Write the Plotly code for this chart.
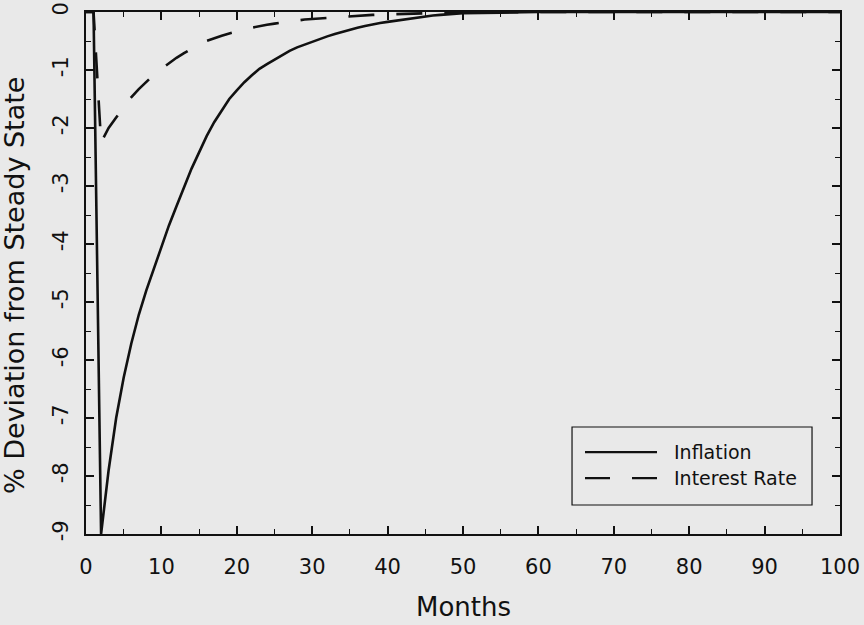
import plotly.graph_objects as go

# ---- data ----
months = list(range(0, 51)) + [55, 60, 70, 80, 90, 100]

inflation = [0.0, 0.0, -9.0, -7.9, -7.0, -6.3, -5.72, -5.22, -4.8, -4.42,
             -4.05, -3.68, -3.35, -3.03, -2.70, -2.42, -2.14, -1.9, -1.69, -1.5,
             -1.35, -1.21, -1.09, -0.98, -0.9, -0.82, -0.74, -0.67, -0.61, -0.56,
             -0.51, -0.47, -0.42, -0.38, -0.34, -0.31, -0.27, -0.24, -0.21, -0.19,
             -0.17, -0.15, -0.13, -0.11, -0.09, -0.08, -0.06, -0.05, -0.04, -0.03,
             -0.02, -0.01, 0.0, 0.0, 0.0, 0.0, 0.0]

interest_rate = [0.0, 0.0, -2.25, -2.0, -1.82, -1.64, -1.47, -1.33, -1.2, -1.08,
                 -0.98, -0.88, -0.79, -0.71, -0.63, -0.56, -0.5, -0.45, -0.41, -0.37,
                 -0.33, -0.3, -0.27, -0.24, -0.22, -0.2, -0.18, -0.16, -0.15, -0.13,
                 -0.12, -0.11, -0.1, -0.09, -0.08, -0.07, -0.06, -0.055, -0.05, -0.045,
                 -0.04, -0.035, -0.03, -0.026, -0.022, -0.019, -0.016, -0.013, -0.011, -0.009,
                 -0.007, -0.003, 0.0, 0.0, 0.0, 0.0, 0.0]

series_names = ["Inflation", "Interest Rate"]
x_ticks = [0, 10, 20, 30, 40, 50, 60, 70, 80, 90, 100]
y_ticks = [0, -1, -2, -3, -4, -5, -6, -7, -8, -9]

BG = "#e9e9e9"
INK = "#111111"
FONT = "DejaVu Sans"

fig = go.Figure()
fig.add_trace(go.Scatter(x=months, y=inflation, mode="lines", name=series_names[0],
                         line=dict(color=INK, width=2.6), showlegend=False))
fig.add_trace(go.Scatter(x=months, y=interest_rate, mode="lines", name=series_names[1],
                         line=dict(color=INK, width=2.6, dash="26px,22px"), showlegend=False))

axis_common = dict(showgrid=False, zeroline=False, showline=True, linecolor=INK,
                   linewidth=2, mirror="ticks", ticks="inside", ticklen=8,
                   tickwidth=1.5, tickcolor=INK, automargin=False,
                   tickfont=dict(family=FONT, size=21, color=INK))

fig.update_xaxes(range=[0, 100], tickvals=x_ticks, ticktext=[str(v) for v in x_ticks],
                 minor=dict(ticks="inside", dtick=5, ticklen=5, tickwidth=1.2, tickcolor=INK),
                 ticklabelstandoff=13, **axis_common)
fig.update_yaxes(range=[-9, 0], tickvals=y_ticks, ticktext=[str(v) for v in y_ticks],
                 tickangle=-90,
                 minor=dict(ticks="inside", dtick=0.5, ticklen=5, tickwidth=1.2, tickcolor=INK),
                 ticklabelstandoff=8, **axis_common)

# manual legend (box, sample lines, labels)
lx0, lx1 = 0.6446, 0.9629
ly0, ly1 = 0.0556, 0.205
fig.add_shape(type="rect", xref="paper", yref="paper", x0=lx0, x1=lx1, y0=ly0, y1=ly1,
              line=dict(color=INK, width=1.2), fillcolor=BG, layer="above")
fig.add_shape(type="line", xref="paper", yref="paper", x0=0.6618, x1=0.7573,
              y0=0.157, y1=0.157, line=dict(color=INK, width=2.2))
fig.add_shape(type="line", xref="paper", yref="paper", x0=0.6618, x1=0.7573,
              y0=0.107, y1=0.107, line=dict(color=INK, width=2.2, dash="25px,22px"))
for name, yy in zip(series_names, [0.157, 0.107]):
    fig.add_annotation(text=name, xref="paper", yref="paper", x=0.7772, y=yy,
                       xanchor="left", yanchor="middle", showarrow=False,
                       font=dict(family=FONT, size=19, color=INK))

# axis titles
fig.add_annotation(text="Months", xref="paper", yref="paper", x=0.5, y=-0.14,
                   xanchor="center", yanchor="middle", showarrow=False,
                   font=dict(family=FONT, size=26, color=INK))
fig.add_annotation(text="% Deviation from Steady State", xref="paper", yref="paper",
                   x=-0.0955, y=0.477, xanchor="center", yanchor="middle",
                   textangle=-90, showarrow=False,
                   font=dict(family=FONT, size=27, color=INK))

fig.update_layout(width=864, height=625, autosize=False,
                  margin=dict(l=86, r=24, t=12, b=91),
                  paper_bgcolor=BG, plot_bgcolor=BG, showlegend=False)

fig.write_html("out.html")
